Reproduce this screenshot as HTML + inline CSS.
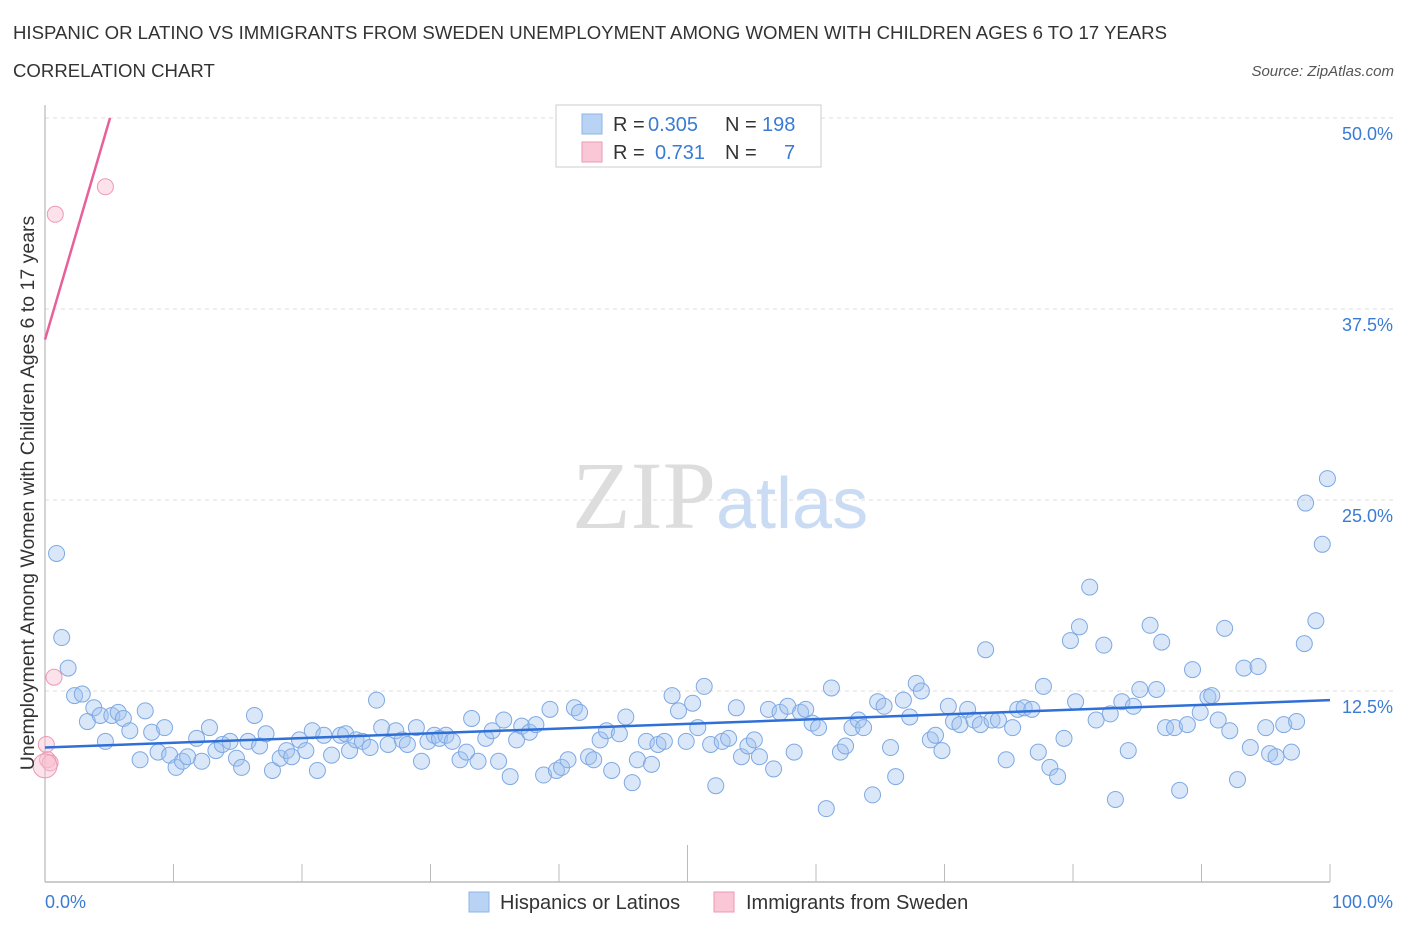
<!DOCTYPE html>
<html><head><meta charset="utf-8"><style>
body{margin:0;background:#fff;font-family:"Liberation Sans",sans-serif;}
#wrap{position:relative;width:1406px;height:930px;overflow:hidden}
</style></head><body><div id="wrap">
<svg id="chart" width="1406" height="930" xmlns="http://www.w3.org/2000/svg">
<text x="13" y="39" font-size="18.6" fill="#333">HISPANIC OR LATINO VS IMMIGRANTS FROM SWEDEN UNEMPLOYMENT AMONG WOMEN WITH CHILDREN AGES 6 TO 17 YEARS</text>
<text x="13" y="77" font-size="18.6" fill="#333">CORRELATION CHART</text>
<text x="1394" y="76" font-size="15" fill="#555" font-style="italic" text-anchor="end">Source: ZipAtlas.com</text>
<text x="716" y="528" font-size="96" fill="#ddd" font-family="Liberation Serif,serif" text-anchor="end">ZIP</text>
<text x="716" y="528" font-size="72" fill="#c9dcf3">atlas</text>
<g id="grid"></g><g id="axes"></g><g id="pts"></g><g id="lines"></g>
<text transform="translate(34,493) rotate(-90)" font-size="19.5" fill="#333" text-anchor="middle">Unemployment Among Women with Children Ages 6 to 17 years</text>
<text x="45" y="908" font-size="18" fill="#3a7bd5">0.0%</text>
<text x="1393" y="908" font-size="18" fill="#3a7bd5" text-anchor="end">100.0%</text>
<g font-size="20">
<rect x="556" y="105" width="265" height="62" fill="#fff" stroke="#ccc"/>
<rect x="582" y="114" width="20" height="20" fill="#b9d3f5" stroke="#8fb4e8"/>
<text x="613" y="131" fill="#333">R =</text><text x="648" y="131" fill="#3a7bd5">0.305</text>
<text x="725" y="131" fill="#333">N =</text><text x="762" y="131" fill="#3a7bd5">198</text>
<rect x="582" y="142" width="20" height="20" fill="#f9c7d6" stroke="#ec9ab4"/>
<text x="613" y="159" fill="#333">R =</text><text x="655" y="159" fill="#3a7bd5">0.731</text>
<text x="725" y="159" fill="#333">N =</text><text x="784" y="159" fill="#3a7bd5">7</text>
</g>
<g>
<rect x="469" y="892" width="20" height="20" fill="#b9d3f5" stroke="#8fb4e8"/>
<text x="500" y="909" font-size="20" fill="#333">Hispanics or Latinos</text>
<rect x="714" y="892" width="20" height="20" fill="#f9c7d6" stroke="#ec9ab4"/>
<text x="746" y="909" font-size="20" fill="#333">Immigrants from Sweden</text>
</g>
</svg></div>
<script>
const yTicks=[50,37.5,25,12.5];
const yTickLabels=["50.0%","37.5%","25.0%","12.5%"];
const blueX=[0.9,1.3,1.8,2.3,2.9,3.3,3.8,4.3,4.7,5.2,5.7,6.1,6.6,7.4,7.8,8.3,8.8,9.3,9.7,10.2,10.7,11.1,11.8,12.2,12.8,13.3,13.8,14.4,14.9,15.3,15.8,16.3,16.7,17.2,17.7,18.3,18.8,19.2,19.8,20.3,20.8,21.2,21.7,22.3,23.0,23.4,23.7,24.2,24.7,25.3,25.8,26.2,26.7,27.3,27.8,28.2,28.9,29.3,29.8,30.3,30.7,31.2,31.7,32.3,32.8,33.2,33.7,34.3,34.8,35.3,35.7,36.2,36.7,37.1,37.7,38.2,38.8,39.3,39.8,40.2,40.7,41.2,41.6,42.3,42.7,43.2,43.7,44.1,44.7,45.2,45.7,46.1,46.8,47.2,47.7,48.2,48.8,49.3,49.9,50.4,50.8,51.3,51.8,52.2,52.7,53.2,53.8,54.2,54.7,55.2,55.6,56.3,56.7,57.2,57.8,58.3,58.8,59.2,59.7,60.2,60.8,61.2,61.9,62.3,62.8,63.3,63.7,64.4,64.8,65.3,65.8,66.2,66.8,67.3,67.8,68.2,68.9,69.3,69.8,70.3,70.7,71.2,71.8,72.3,72.8,73.2,73.7,74.2,74.8,75.3,75.7,76.2,76.8,77.3,77.7,78.2,78.8,79.3,79.8,80.2,80.5,81.3,81.8,82.4,82.9,83.3,83.8,84.3,84.7,85.2,86.0,86.5,86.9,87.2,87.9,88.3,88.9,89.3,89.9,90.5,90.8,91.3,91.8,92.2,92.8,93.3,93.8,94.4,95.0,95.3,95.8,96.4,97.0,97.4,98.0,98.1,98.9,99.4,99.8];
const blueY=[21.5,16.0,14.0,12.2,12.3,10.5,11.4,10.9,9.2,10.9,11.1,10.7,9.9,8.0,11.2,9.8,8.5,10.1,8.3,7.5,7.9,8.2,9.4,7.9,10.1,8.6,9.0,9.2,8.1,7.5,9.2,10.9,8.9,9.7,7.3,8.1,8.6,8.2,9.3,8.6,9.9,7.3,9.6,8.3,9.6,9.7,8.6,9.3,9.2,8.8,11.9,10.1,9.0,9.9,9.3,9.0,10.1,7.9,9.2,9.6,9.4,9.6,9.2,8.0,8.5,10.7,7.9,9.4,9.9,7.9,10.6,6.9,9.3,10.2,9.8,10.3,7.0,11.3,7.3,7.5,8.0,11.4,11.1,8.2,8.0,9.3,9.9,7.3,9.7,10.8,6.5,8.0,9.2,7.7,9.0,9.2,12.2,11.2,9.2,11.7,10.1,12.8,9.0,6.3,9.2,9.4,11.4,8.2,8.9,9.3,8.2,11.3,7.4,11.1,11.5,8.5,11.1,11.3,10.4,10.1,4.8,12.7,8.5,8.9,10.1,10.6,10.1,5.7,11.8,11.5,8.8,6.9,11.9,10.8,13.0,12.5,9.3,9.6,8.6,11.5,10.5,10.3,11.3,10.6,10.3,15.2,10.6,10.6,8.0,10.1,11.3,11.4,11.3,8.5,12.8,7.5,6.9,9.4,15.8,11.8,16.7,19.3,10.6,15.5,11.0,5.4,11.8,8.6,11.5,12.6,16.8,12.6,15.7,10.1,10.1,6.0,10.3,13.9,11.1,12.1,12.2,10.6,16.6,9.9,6.7,14.0,8.8,14.1,10.1,8.4,8.2,10.3,8.5,10.5,15.6,24.8,17.1,22.1,26.4];
const pinkX=[0.8,4.7,0.7,0.1,0.2,0.4,0.0];
const pinkY=[43.7,45.5,13.4,9.0,8.0,7.8,7.6];
const blueTrend=[8.8,11.9];
const pinkTrend=[35.5,50,5.06];
const X0=45,X1=1330,Y0=882,Ytop=118;
const sx=v=>X0+(v/100)*(X1-X0);
const sy=v=>Y0-(v/50)*(Y0-Ytop);
const NS="http://www.w3.org/2000/svg";
function mk(t,a,p){const e=document.createElementNS(NS,t);for(const k in a)e.setAttribute(k,a[k]);p.appendChild(e);return e;}
const grid=document.getElementById('grid'),axes=document.getElementById('axes'),pts=document.getElementById('pts'),lines=document.getElementById('lines');
yTicks.forEach((t,i)=>{
 const g=mk('line',{x1:X0,x2:1395,y1:sy(t),y2:sy(t),stroke:'#ddd','stroke-dasharray':'4,4'},grid);
 
 
 const tx=mk('text',{x:1393,y:sy(t)+22,'font-size':18,fill:'#3a7bd5','text-anchor':'end'},grid);
 tx.textContent=yTickLabels[i];
 
 
});
const ax=mk('line',{x1:X0,x2:X0,y1:105,y2:Y0,stroke:'#aaa'},axes);


const bx=mk('line',{x1:X0,x2:X1,y1:Y0,y2:Y0,stroke:'#bbb','stroke-width':1.5},axes);


for(let i=1;i<=10;i++){
 const tk=mk('line',{x1:sx(i*10),x2:sx(i*10),y1:i==5?845:864,y2:Y0,stroke:'#bbb'},axes);
 
 
}
blueX.forEach((x,i)=>{
 const c=mk('circle',{cx:sx(x),cy:sy(blueY[i]),r:8,fill:'rgba(160,196,240,0.4)',stroke:'#7ea9e3','stroke-width':1},pts);
 
 
});
pinkX.forEach((x,i)=>{
 const c=mk('circle',{cx:sx(x),cy:sy(pinkY[i]),r:i==6?12:8,fill:'rgba(248,190,208,0.45)',stroke:'#ec9ab4','stroke-width':1},pts);
 
 
});
const bl=mk('line',{x1:sx(0),y1:sy(blueTrend[0]),x2:sx(100),y2:sy(blueTrend[1]),stroke:'#2f6fd6','stroke-width':2.5},lines);


const pl=mk('line',{x1:sx(0),y1:sy(pinkTrend[0]),x2:sx(pinkTrend[2]),y2:sy(pinkTrend[1]),stroke:'#e8609a','stroke-width':2.5},lines);


</script></body></html>
